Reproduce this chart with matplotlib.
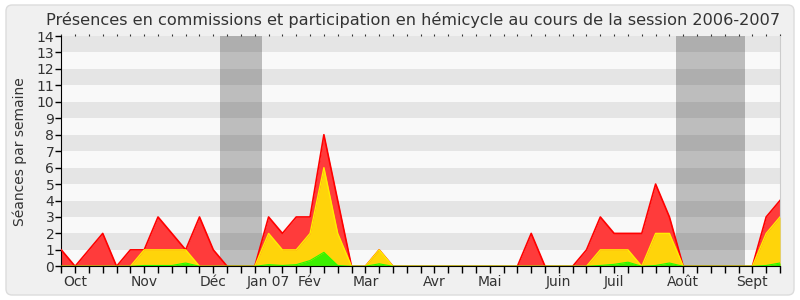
import matplotlib.pyplot as plt
from matplotlib.patches import FancyBboxPatch
import numpy as np

# Séances par semaine, session 2006-2007 (semaine 0 = début octobre)
weeks = np.arange(53)
total = [1, 0, 1, 2, 0, 1, 1, 3, 2, 1, 3, 1, 0, 0, 0, 3, 2, 3, 3, 8,
         4, 0, 0, 1, 0, 0, 0, 0, 0, 0, 0, 0, 0, 0, 2, 0, 0, 0, 1, 3,
         2, 2, 2, 5, 3, 0, 0, 0, 0, 0, 0, 3, 4]
hemicycle = [0, 0, 0, 0, 0, 0, 1, 1, 1, 1, 0, 0, 0, 0, 0, 2, 1, 1, 2, 6,
             2, 0, 0, 1, 0, 0, 0, 0, 0, 0, 0, 0, 0, 0, 0, 0, 0, 0, 0, 1,
             1, 1, 0, 2, 2, 0, 0, 0, 0, 0, 0, 2, 3]
interventions = [0, 0, 0, 0, 0, 0, 0.05, 0.05, 0.05, 0.2, 0, 0, 0, 0, 0, 0.1, 0.05, 0.1, 0.35, 0.85,
                 0.05, 0, 0, 0.15, 0, 0, 0, 0, 0, 0, 0, 0, 0, 0, 0, 0, 0, 0, 0, 0.05,
                 0.12, 0.25, 0, 0.05, 0.2, 0, 0, 0, 0, 0, 0, 0.05, 0.2]

month_labels = ['Oct', 'Nov', 'Déc', 'Jan 07', 'Fév', 'Mar', 'Avr', 'Mai',
                'Juin', 'Juil', 'Août', 'Sept']
month_weeks = [1, 6, 11, 15, 18, 22, 27, 31, 36, 40, 45, 50]
vacances = [(11.5, 14.5), (44.5, 49.5)]

txt = '#333333'
fig = plt.figure(figsize=(8, 3), dpi=100, facecolor='white')
fig.patches.append(FancyBboxPatch((0.06, 0.05), 7.88, 2.9,
                                  boxstyle='round,pad=0,rounding_size=0.06',
                                  transform=fig.dpi_scale_trans,
                                  fc='#f0f0f0', ec='#dcdcdc', lw=1, zorder=-5))
ax = fig.add_axes([0.0766, 0.1123, 0.8984, 0.7677])
ax.set_facecolor('#f9f9f9')

# bandes horizontales
for y in range(1, 14, 2):
    ax.axhspan(y, y + 1, color='#e5e5e5', lw=0, zorder=0)
# vacances parlementaires
for a, b in vacances:
    ax.axvspan(a, b, color='black', alpha=0.24, lw=0, zorder=1)

ax.fill_between(weeks, total, color='#ff3b3b', lw=0, zorder=2)
ax.plot(weeks, total, color='#ff0000', lw=1.2, zorder=3)
ax.fill_between(weeks, hemicycle, color='#ffd40a', lw=0, zorder=4)
ax.plot(weeks, hemicycle, color='#ffee00', lw=1, zorder=5)
ax.fill_between(weeks, interventions, color='#3cf000', lw=0, zorder=6)
ax.plot(weeks, interventions, color='#22ff00', lw=0.8, zorder=7)

ax.set_xlim(0, 52)
ax.set_ylim(0, 14)
ax.set_yticks(range(15))
ax.set_xticks(weeks)
labels = dict(zip(month_weeks, month_labels))
ax.set_xticklabels([labels.get(w, '') for w in weeks])
ax.tick_params(axis='x', length=5, width=1, color='black', labelsize=10,
               labelcolor=txt, pad=1)
ax.tick_params(axis='y', length=4, width=1, color='black', labelsize=10,
               labelcolor=txt, pad=1)

top = ax.secondary_xaxis('top')
top.set_xticks(weeks)
top.set_xticklabels([])
top.tick_params(length=1.5, width=0.8, color='#333333')
top.spines['top'].set_visible(False)

ax.spines['top'].set_visible(False)
ax.spines['right'].set_color('#cccccc')
ax.spines['left'].set_color('black')
ax.spines['bottom'].set_color('black')
ax.spines['bottom'].set_zorder(10)

ax.set_ylabel('Séances par semaine', fontsize=10, color=txt, labelpad=7)
fig.text(0.516, 0.932, 'Présences en commissions et participation en hémicycle au cours de la session 2006-2007',
         ha='center', va='center', fontsize=11.6, color=txt)

plt.savefig('out.png', dpi=100)
